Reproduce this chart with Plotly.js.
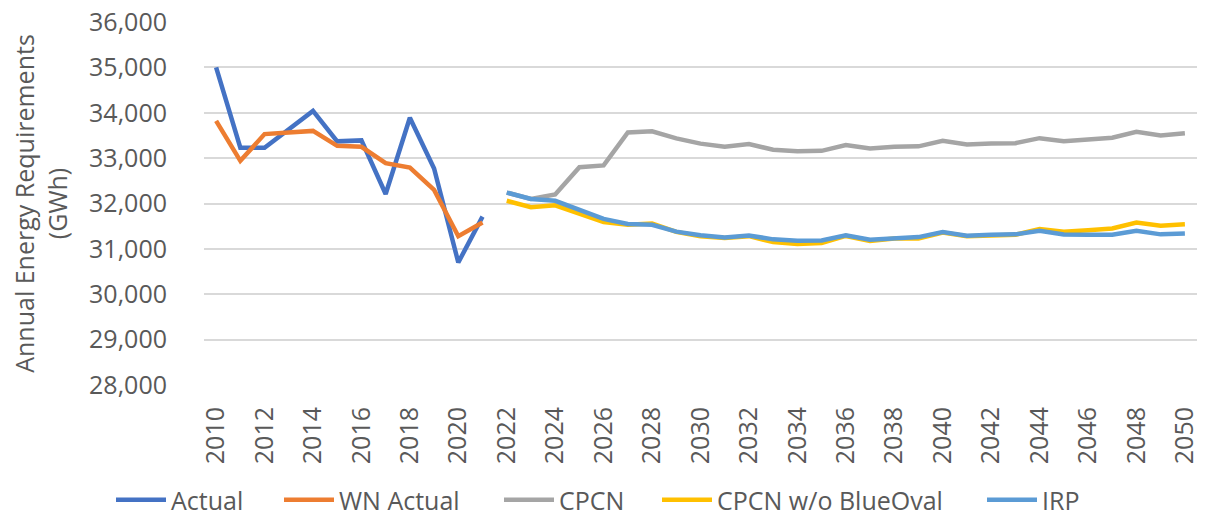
<!DOCTYPE html>
<html>
<head>
<meta charset="utf-8">
<script src="https://cdn.plot.ly/plotly-3.0.1.min.js"></script>
<style>
  html, body { margin: 0; padding: 0; background: #fff; }
  #chart { width: 1206px; height: 518px; }
</style>
</head>
<body>
<div id="chart"></div>
<script>
// Years
const years = [];
for (let y = 2010; y <= 2050; y++) years.push(y);

// Historical series (2010-2021)
const actual = [35000, 33230, 33230, 33620, 34040, 33370, 33390, 32210, 33890, 32770, 30700, 31710];
const wnActual = [33820, 32940, 33530, 33570, 33600, 33270, 33250, 32890, 32790, 32300, 31280, 31580];

// Forecast series (2022-2050)
const cpcn = [32240, 32100, 32200, 32800, 32840, 33567, 33590, 33435, 33320, 33250, 33310, 33185, 33150, 33160,
  33290, 33210, 33250, 33260, 33380, 33300, 33320, 33330, 33440, 33370, 33410, 33450, 33580, 33500, 33550];
const cpcnNoBlueOval = [32060, 31920, 31960, 31780, 31590, 31530, 31560, 31375, 31280, 31240, 31280, 31150, 31110, 31130,
  31285, 31175, 31230, 31230, 31358, 31280, 31300, 31310, 31440, 31380, 31410, 31450, 31580, 31510, 31540];
const irp = [32240, 32100, 32060, 31860, 31660, 31550, 31530, 31380, 31300, 31250, 31295, 31210, 31180, 31185,
  31300, 31200, 31240, 31260, 31370, 31290, 31310, 31320, 31400, 31315, 31310, 31310, 31400, 31320, 31340];

const histYears = years.slice(0, 12);
const fcstYears = years.slice(12);

const names = ['Actual', 'WN Actual', 'CPCN', 'CPCN w/o BlueOval', 'IRP'];
const colors = ['#4472C4', '#ED7D31', '#A5A5A5', '#FFC000', '#5B9BD5'];

const seriesX = [histYears, histYears, fcstYears, fcstYears, fcstYears];
const seriesY = [actual, wnActual, cpcn, cpcnNoBlueOval, irp];

const legendIds = ['legend', 'legend2', 'legend3', 'legend4', 'legend5'];
// left edge (px) of each legend entry along the bottom of the figure
const legendLeftPx = [111, 279, 499, 657, 982];

const traces = names.map((n, i) => ({
  type: 'scatter',
  mode: 'lines',
  name: n,
  legend: legendIds[i],
  x: seriesX[i],
  y: seriesY[i],
  line: { color: colors[i], width: 4.5, shape: 'linear' },
  hoverinfo: 'x+y+name'
}));

const FONT = 'Open Sans, Noto Sans, sans-serif';
const TXT = '#595959';
const W = 1206, H = 518;

const layout = {
  width: W,
  height: H,
  margin: { l: 204, r: 9, t: 22, b: 133 },
  paper_bgcolor: '#ffffff',
  plot_bgcolor: '#ffffff',
  font: { family: FONT, size: 25, color: TXT },
  showlegend: true,
  xaxis: {
    type: 'linear',
    range: [2009.5, 2050.5],
    tick0: 2010,
    dtick: 2,
    tickangle: -90,
    showgrid: false,
    zeroline: false,
    showline: false,
    ticks: 'outside',
    ticklen: 11,
    tickcolor: 'rgba(0,0,0,0)',
    tickfont: { family: FONT, size: 25, color: TXT },
    fixedrange: true
  },
  yaxis: {
    range: [28000, 36000],
    dtick: 1000,
    tickformat: ',d',
    showgrid: true,
    gridcolor: '#D9D9D9',
    gridwidth: 1.8,
    zeroline: false,
    showline: false,
    ticks: 'outside',
    ticklen: 31,
    tickcolor: 'rgba(0,0,0,0)',
    tickfont: { family: FONT, size: 25, color: TXT },
    title: {
      text: 'Annual Energy Requirements<br>(GWh)',
      font: { family: FONT, size: 25, color: TXT },
      standoff: 14
    },
    fixedrange: true
  }
};

legendIds.forEach((id, i) => {
  layout[id] = {
    orientation: 'h',
    xref: 'container',
    yref: 'container',
    x: legendLeftPx[i] / W,
    xanchor: 'left',
    y: 18 / H,
    yanchor: 'middle',
    font: { family: FONT, size: 25, color: TXT },
    itemwidth: 50,
    bgcolor: 'rgba(0,0,0,0)'
  };
});

Plotly.newPlot('chart', traces, layout, { displayModeBar: false });
</script>
</body>
</html>
